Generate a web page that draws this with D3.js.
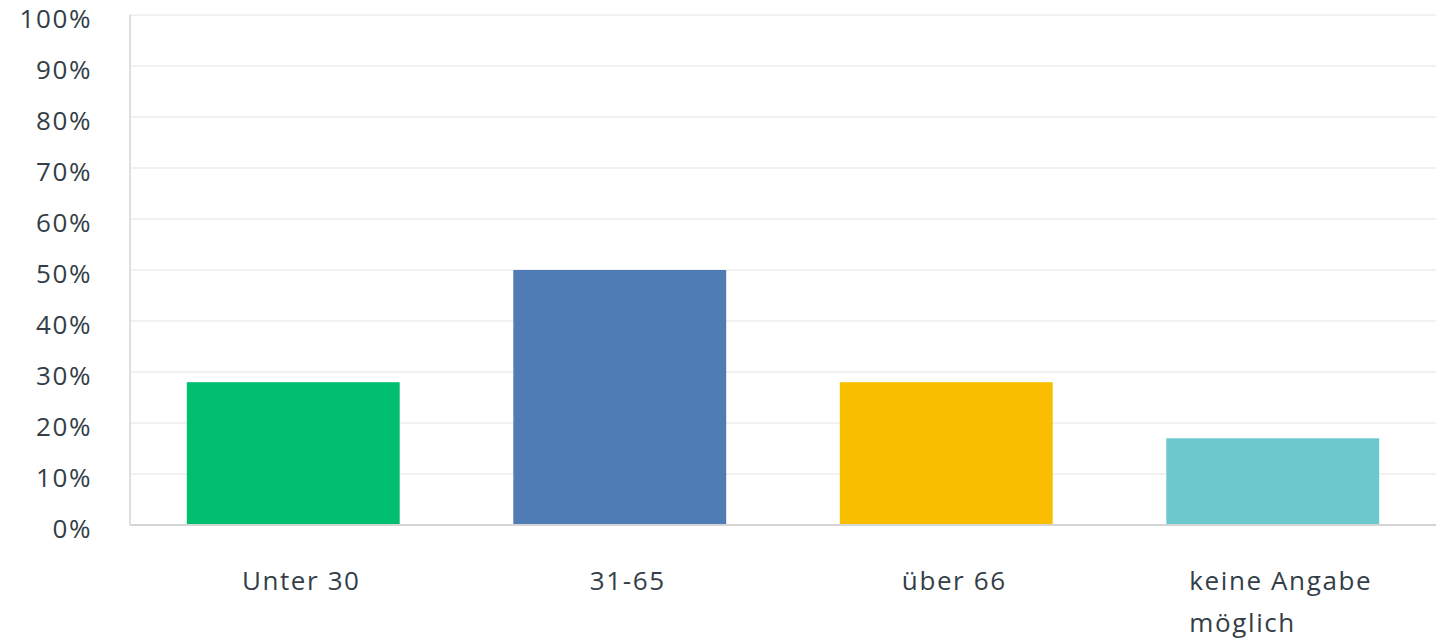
<!DOCTYPE html>
<html>
<head>
<meta charset="utf-8">
<script src="https://cdn.jsdelivr.net/npm/d3@7"></script>
<style>
  html, body { margin: 0; padding: 0; background: #fff; }
  svg { display: block; }
  text { font-family: "Open Sans", "Noto Sans", sans-serif; fill: #333e48; }
</style>
</head>
<body>
<svg id="chart" width="1441" height="639"></svg>
<script>
const categories = ["Unter 30", "31-65", "über 66", "keine Angabe möglich"];
const values = [28, 50, 28, 17];
const colors = ["#00bf6f", "#507cb6", "#f9be00", "#6bc8cd"];
const yTicks = [0, 10, 20, 30, 40, 50, 60, 70, 80, 90, 100];

(function () {
const svg = d3.select("#chart");
const mLeft = 130, mRight = 1436, mTop = 15, mBottom = 525;
const fontSize = 26, spacing = 1.6;

const x = d3.scaleBand().domain(categories).range([mLeft, mRight]).paddingInner(0.348).paddingOuter(0.174);
const y = d3.scaleLinear().domain([0, 100]).range([mBottom, mTop]);

// gridlines
svg.append("g").selectAll("line").data(yTicks.filter(d => d > 0)).join("line")
  .attr("x1", mLeft).attr("x2", mRight)
  .attr("y1", d => y(d)).attr("y2", d => y(d))
  .attr("stroke", "#ededed").attr("stroke-width", 1.5);

// bars
svg.append("g").selectAll("rect").data(categories).join("rect")
  .attr("x", d => x(d))
  .attr("width", x.bandwidth())
  .attr("y", (d, i) => y(values[i]))
  .attr("height", (d, i) => y(0) - y(values[i]))
  .attr("fill", (d, i) => colors[i]);

// axis lines
svg.append("line").attr("x1", mLeft).attr("x2", mLeft).attr("y1", mTop).attr("y2", mBottom)
  .attr("stroke", "#d5d5d5").attr("stroke-width", 1.5);
svg.append("line").attr("x1", mLeft).attr("x2", mRight).attr("y1", mBottom).attr("y2", mBottom)
  .attr("stroke", "#d5d5d5").attr("stroke-width", 2);

// y axis labels
const yAxis = d3.axisLeft(y).tickValues(yTicks).tickFormat(d => d + "%").tickSize(0).tickPadding(0);
const yg = svg.append("g").attr("transform", `translate(92,3)`).call(yAxis);
yg.select(".domain").remove();
yg.selectAll("text").attr("font-size", fontSize).attr("letter-spacing", spacing)
  .attr("font-family", '"Open Sans", sans-serif').attr("fill", "#333e48").attr("dy", "0.35em");

// x labels
const xg = svg.append("g");
const lines = { "keine Angabe möglich": ["keine Angabe", "möglich"] };
categories.forEach((c, i) => {
  const cx = x(c) + x.bandwidth() / 2 + 8;
  const ls = lines[c] || [c];
  const t = xg.append("text").attr("font-size", fontSize).attr("letter-spacing", spacing).attr("y", 590);
  ls.forEach((l, j) => {
    t.append("tspan").attr("x", cx).attr("dy", j === 0 ? 0 : 42).text(l);
  });
  if (ls.length > 1) {
    const w = t.node().getBBox().width;
    t.selectAll("tspan").attr("x", cx - w / 2).attr("text-anchor", "start");
  } else {
    t.attr("text-anchor", "middle");
  }
});
})();
</script>
</body>
</html>
